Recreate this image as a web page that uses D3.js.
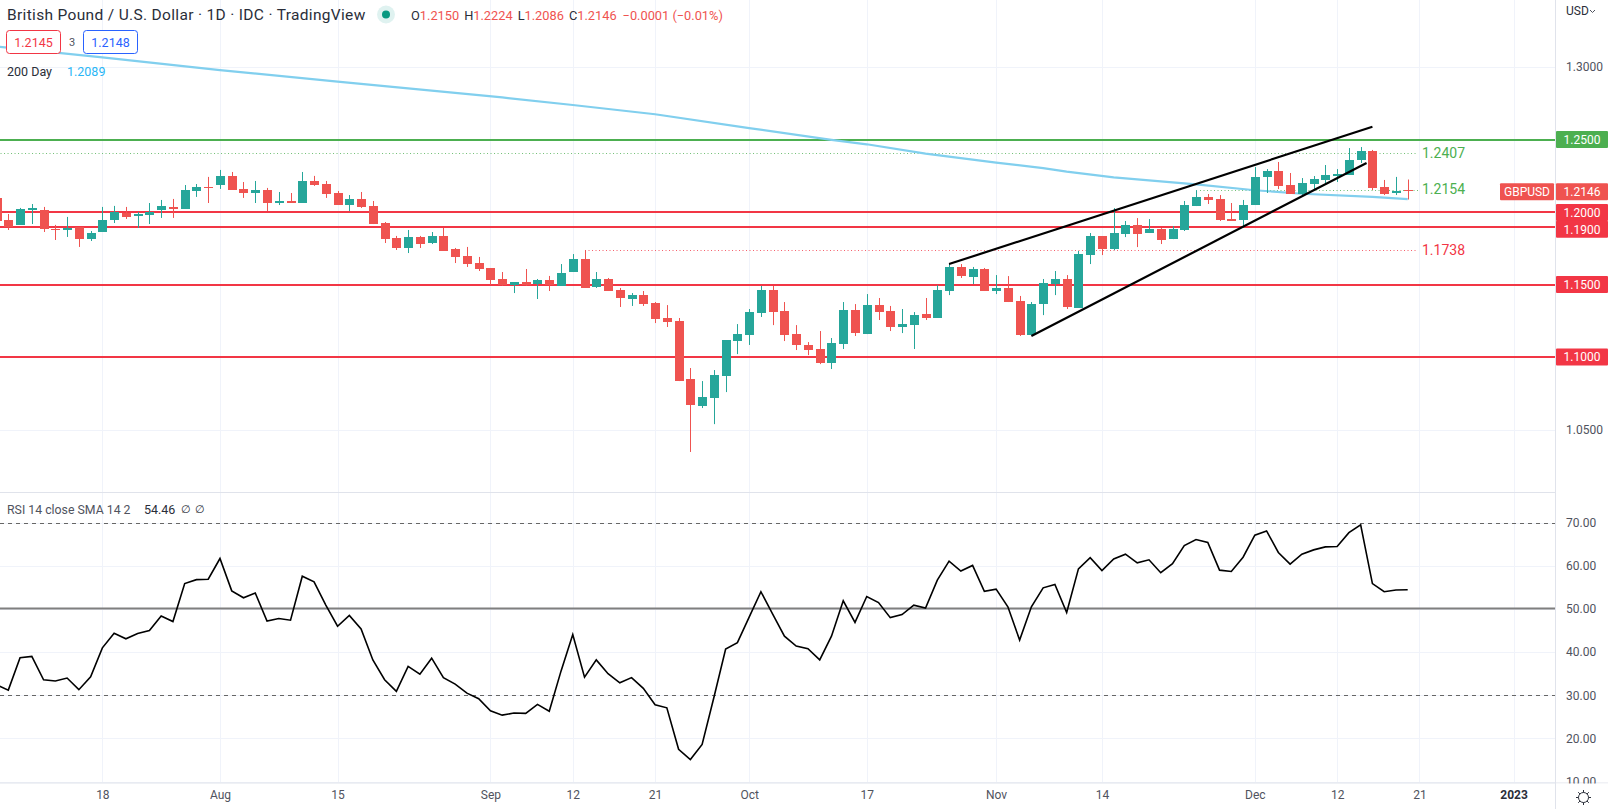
<!DOCTYPE html>
<html>
<head>
<meta charset="utf-8">
<title>GBPUSD</title>
<script src="https://cdnjs.cloudflare.com/ajax/libs/d3/7.8.5/d3.min.js"></script>
<style>
  html, body { margin: 0; padding: 0; background: #fff; }
  svg { display: block; font-family: Roboto, sans-serif; }
  .tick text { font-family: Roboto, sans-serif; }
</style>
</head>
<body>
<svg id="chart" width="1608" height="809"></svg>
<script>
// daily candles, first one is the half hidden bar at the left edge (day -1)
var firstDay = -1;
var open = [1.2097,1.1945,1.1911,1.2014,1.2014,1.1883,1.1876,1.1897,1.1814,1.1862,1.1945,1.1993,1.1973,1.1980,1.2014,1.2035,1.2021,1.2145,1.2173,1.2186,
  1.2249,1.2159,1.2131,1.2152,1.2062,1.2076,1.2062,1.2214,1.2193,1.2131,1.2048,1.2090,1.2042,1.1924,1.1821,1.1752,1.1828,1.1786,1.1835,1.1745,
  1.1697,1.1648,1.1614,1.1538,1.1497,1.1517,1.1503,1.1531,1.1490,1.1586,1.1676,1.1483,1.1538,1.1462,1.1400,1.1427,1.1372,1.1269,1.1248,1.0848,
  1.0662,1.0717,1.0869,1.1110,1.1151,1.1303,1.1462,1.1317,1.1158,1.1082,1.1055,1.0958,1.1089,1.1324,1.1158,1.1358,1.1317,1.1207,1.1220,1.1296,
  1.1269,1.1455,1.1621,1.1551,1.1607,1.1455,1.1476,1.1386,1.1151,1.1365,1.1503,1.1538,1.1338,1.1703,1.1834,1.1744,1.1848,1.1910,1.1855,1.1882,
  1.1813,1.1876,1.2041,1.2103,1.2089,1.1951,1.1945,1.2048,1.2241,1.2283,1.2186,1.2124,1.2193,1.2221,1.2248,1.2255,1.2359,1.2421,1.2172,1.2131,1.2150];
var high = [1.2097,1.1986,1.2028,1.2055,1.2035,1.1911,1.1966,1.1897,1.1869,1.2035,1.2042,1.2035,1.2000,1.2062,1.2083,1.2090,1.2186,1.2193,1.2242,1.2290,
  1.2276,1.2207,1.2214,1.2166,1.2138,1.2131,1.2276,1.2249,1.2214,1.2145,1.2117,1.2138,1.2076,1.1931,1.1835,1.1876,1.1835,1.1862,1.1890,1.1752,
  1.1759,1.1690,1.1614,1.1586,1.1517,1.1607,1.1538,1.1559,1.1641,1.1710,1.1738,1.1586,1.1545,1.1476,1.1441,1.1455,1.1379,1.1358,1.1269,1.0924,
  1.0834,1.0910,1.1117,1.1227,1.1331,1.1490,1.1490,1.1379,1.1220,1.1103,1.1179,1.1131,1.1379,1.1365,1.1434,1.1407,1.1352,1.1331,1.1310,1.1407,
  1.1496,1.1641,1.1641,1.1621,1.1614,1.1565,1.1558,1.1421,1.1379,1.1538,1.1593,1.1565,1.1731,1.1855,1.1834,1.2027,1.1938,1.1958,1.1951,1.1889,
  1.1903,1.2076,1.2151,1.2124,1.2117,1.2062,1.2083,1.2310,1.2296,1.2345,1.2269,1.2234,1.2248,1.2324,1.2296,1.2441,1.2448,1.2428,1.2221,1.2242,1.2224];
var low = [1.1938,1.1876,1.1911,1.1917,1.1862,1.1807,1.1828,1.1759,1.1800,1.1862,1.1924,1.1952,1.1890,1.1917,1.1959,1.1959,1.2021,1.2104,1.2062,1.2159,
  1.2152,1.2097,1.2062,1.2007,1.2048,1.2062,1.2062,1.2180,1.2097,1.2048,1.2007,1.2028,1.1917,1.1786,1.1738,1.1717,1.1752,1.1779,1.1731,1.1648,
  1.1621,1.1593,1.1497,1.1490,1.1441,1.1490,1.1400,1.1455,1.1490,1.1586,1.1476,1.1476,1.1455,1.1345,1.1352,1.1352,1.1234,1.1207,1.0834,1.0345,
  1.0648,1.0537,1.0758,1.1020,1.1083,1.1276,1.1220,1.1110,1.1048,1.1013,1.0951,1.0917,1.1055,1.1145,1.1158,1.1255,1.1179,1.1165,1.1055,1.1255,
  1.1269,1.1427,1.1545,1.1503,1.1455,1.1434,1.1379,1.1145,1.1151,1.1289,1.1427,1.1331,1.1338,1.1641,1.1703,1.1737,1.1827,1.1758,1.1855,1.1779,
  1.1813,1.1869,1.2041,1.2055,1.1938,1.1938,1.1896,1.2048,1.2131,1.2158,1.2124,1.2110,1.2145,1.2200,1.2207,1.2255,1.2338,1.2151,1.2117,1.2117,1.2086];
var close = [1.1938,1.1897,1.2021,1.2028,1.1883,1.1876,1.1890,1.1814,1.1855,1.1945,1.2000,1.1966,1.1986,1.2000,1.2042,1.2021,1.2152,1.2173,1.2166,1.2249,
  1.2152,1.2131,1.2152,1.2062,1.2076,1.2062,1.2214,1.2186,1.2124,1.2048,1.2090,1.2035,1.1917,1.1814,1.1752,1.1828,1.1779,1.1835,1.1731,1.1690,
  1.1641,1.1607,1.1531,1.1497,1.1517,1.1497,1.1531,1.1497,1.1579,1.1676,1.1476,1.1538,1.1455,1.1407,1.1427,1.1365,1.1262,1.1241,1.0834,1.0668,
  1.0724,1.0875,1.1117,1.1158,1.1310,1.1462,1.1310,1.1151,1.1082,1.1048,1.0958,1.1096,1.1324,1.1165,1.1358,1.1310,1.1207,1.1227,1.1289,1.1269,
  1.1462,1.1621,1.1558,1.1607,1.1455,1.1476,1.1379,1.1151,1.1365,1.1510,1.1538,1.1345,1.1710,1.1834,1.1744,1.1855,1.1910,1.1848,1.1882,1.1807,
  1.1882,1.2048,1.2103,1.2083,1.1945,1.1938,1.2048,1.2241,1.2283,1.2179,1.2124,1.2200,1.2227,1.2255,1.2262,1.2359,1.2421,1.2165,1.2124,1.2145,1.2146];

// RSI, same days as the candles
var rsi = [32.4,31.2,38.7,39.0,33.6,33.3,34.0,31.3,34.3,41.0,44.4,43.1,44.3,45.0,48.4,47.1,55.9,56.8,56.9,61.7,
  54.2,52.6,53.7,47.2,47.8,47.4,57.6,56.3,50.9,46.0,48.5,45.4,38.2,33.6,30.9,36.7,34.9,38.6,34.1,32.6,
  30.5,29.2,26.4,25.4,25.9,25.8,27.9,26.3,35.6,44.1,34.2,38.2,35.0,32.9,34.1,31.6,27.8,27.1,17.5,15.1,
  18.6,29.5,40.7,42.2,48.1,54.0,48.8,43.7,41.4,40.8,38.2,43.7,51.9,46.9,52.9,51.5,48.0,48.7,50.9,50.2,
  56.7,61.1,58.8,60.1,54.1,54.6,50.5,42.8,50.5,54.9,55.7,49.2,59.3,61.9,58.9,61.6,62.7,60.7,61.4,58.4,
  60.5,64.7,66.1,65.4,59.0,58.7,62.0,67.1,68.1,63.1,60.4,62.7,63.7,64.4,64.5,67.7,69.5,55.9,54.0,54.4,54.46];

// 200 day average read at a few days
var maDays = [-1,8,18,28,42,48,55,63,70,73,78,84,88,90,94,101,106,110,116,119];
var maVals = [1.3141,1.3066,1.2979,1.2899,1.2790,1.2738,1.2674,1.2579,1.2497,1.2467,1.2403,1.2341,1.2303,1.2278,1.2239,1.2190,1.2150,1.2126,1.2104,1.2089];

var redLevels = [1.2000,1.1900,1.1500,1.1000];
var greenLevel = 1.2500;

// upper and lower wedge, [day, price]
var wedgeUpper = [[80,1.1641],[116,1.2588]];
var wedgeLower = [[87,1.1145],[115.5,1.2338]];

// dotted high / low markers
var markers = [
  {from: -1, price: 1.2407, text: '1.2407', color: '#4caf50'},
  {from: 101, price: 1.2154, text: '1.2154', color: '#4caf50'},
  {from: 49, price: 1.1738, text: '1.1738', color: '#f23645'}
];

var tickDays = [8,18,28,41,48,55,63,73,84,93,106,113,120,128];
var tickNames = ['18','Aug','15','Sep','12','21','Oct','17','Nov','14','Dec','12','21','2023'];
var priceTicks = [1.30,1.25,1.20,1.15,1.10,1.05];
var rsiTicks = [70,60,50,40,30,20,10];

var COL_UP = '#26a69a', COL_DOWN = '#ef5350', COL_RED = '#f23645', COL_GREEN = '#4caf50';
var COL_GRID = '#f0f3fa', COL_BORDER = '#e0e3eb', COL_TEXT = '#2a2e39', COL_MUTED = '#50535e';
var AXIS_X = 1555, PANE_SPLIT = 492.5, PANE_BOTTOM = 783;

var svg = d3.select('#chart');

var x = d3.scaleLinear().domain([0, 119]).range([8.3, 1407.7]);
var y = d3.scaleLinear().domain([1.30, 1.05]).range([67, 429.5]);
var yRsi = d3.scaleLinear().domain([70, 10]).range([522.7, 781.6]);

svg.append('rect').attr('width', 1608).attr('height', 809).attr('fill', '#fff');

var clip = svg.append('defs');
clip.append('clipPath').attr('id', 'mainClip').append('rect').attr('width', AXIS_X).attr('height', PANE_SPLIT);
clip.append('clipPath').attr('id', 'rsiClip').append('rect').attr('y', PANE_SPLIT).attr('width', AXIS_X).attr('height', PANE_BOTTOM - PANE_SPLIT);

// grid
var grid = svg.append('g').attr('stroke', COL_GRID).attr('stroke-width', 1);
grid.selectAll('.v').data(tickDays).enter().append('line')
  .attr('x1', function (d) { return Math.round(x(d)) + 0.5; })
  .attr('x2', function (d) { return Math.round(x(d)) + 0.5; })
  .attr('y1', 0).attr('y2', PANE_BOTTOM);
grid.selectAll('.hp').data(priceTicks).enter().append('line')
  .attr('x1', 0).attr('x2', AXIS_X)
  .attr('y1', function (d) { return Math.round(y(d)) + 0.5; })
  .attr('y2', function (d) { return Math.round(y(d)) + 0.5; });
grid.selectAll('.hr').data(rsiTicks).enter().append('line')
  .attr('x1', 0).attr('x2', AXIS_X)
  .attr('y1', function (d) { return Math.round(yRsi(d)) + 0.5; })
  .attr('y2', function (d) { return Math.round(yRsi(d)) + 0.5; });

var main = svg.append('g').attr('clip-path', 'url(#mainClip)');

// horizontal levels sit under the candles
main.selectAll('.red').data(redLevels).enter().append('line')
  .attr('x1', 0).attr('x2', AXIS_X)
  .attr('y1', function (d) { return Math.round(y(d)); }).attr('y2', function (d) { return Math.round(y(d)); })
  .attr('stroke', COL_RED).attr('stroke-width', 2);
main.append('line')
  .attr('x1', 0).attr('x2', AXIS_X)
  .attr('y1', Math.round(y(greenLevel))).attr('y2', Math.round(y(greenLevel)))
  .attr('stroke', COL_GREEN).attr('stroke-width', 2);

main.selectAll('.marker').data(markers).enter().append('line')
  .attr('x1', function (d) { return x(d.from) + 4; }).attr('x2', 1418)
  .attr('y1', function (d) { return Math.round(y(d.price)) + 0.5; })
  .attr('y2', function (d) { return Math.round(y(d.price)) + 0.5; })
  .attr('stroke', function (d) { return d.color; })
  .attr('stroke-opacity', 0.8).attr('stroke-width', 1).attr('stroke-dasharray', '1 2.5');

var maLine = d3.line()
  .x(function (d) { return x(d); })
  .y(function (d, i) { return y(maVals[i]); });
main.append('path').attr('d', maLine(maDays))
  .attr('fill', 'none').attr('stroke', '#81cfee').attr('stroke-width', 2.2);

// candles
var days = d3.range(open.length);
function dayX(i) { return Math.round(x(i + firstDay)); }
function candleColor(i) { return close[i] >= open[i] ? COL_UP : COL_DOWN; }

var candles = main.append('g').selectAll('g').data(days).enter().append('g');
candles.append('line')
  .attr('x1', function (i) { return dayX(i) + 0.5; })
  .attr('x2', function (i) { return dayX(i) + 0.5; })
  .attr('y1', function (i) { return y(high[i]); })
  .attr('y2', function (i) { return y(low[i]); })
  .attr('stroke', candleColor).attr('stroke-width', 1);
candles.append('rect')
  .attr('x', function (i) { return dayX(i) - 4; })
  .attr('width', 9)
  .attr('y', function (i) { return Math.round(y(Math.max(open[i], close[i]))); })
  .attr('height', function (i) { return Math.max(1, Math.round(Math.abs(y(open[i]) - y(close[i])))); })
  .attr('fill', candleColor);

// wedge on top of everything
var wedge = d3.line().x(function (d) { return x(d[0]); }).y(function (d) { return y(d[1]); });
main.selectAll('.wedge').data([wedgeUpper, wedgeLower]).enter().append('path')
  .attr('d', wedge).attr('fill', 'none').attr('stroke', '#000').attr('stroke-width', 2.2);

// marker labels
svg.selectAll('.mlabel').data(markers).enter().append('text')
  .attr('x', 1422).attr('y', function (d) { return y(d.price) - 0.5; })
  .attr('dy', '0.36em')
  .attr('font-size', 14).attr('fill', function (d) { return d.color; })
  .text(function (d) { return d.text; });

// RSI pane
var rsiPane = svg.append('g').attr('clip-path', 'url(#rsiClip)');
rsiPane.selectAll('.dash').data([70, 30]).enter().append('line')
  .attr('x1', 0).attr('x2', AXIS_X)
  .attr('y1', function (d) { return Math.round(yRsi(d)) + 0.5; })
  .attr('y2', function (d) { return Math.round(yRsi(d)) + 0.5; })
  .attr('stroke', '#666').attr('stroke-width', 1).attr('stroke-dasharray', '4 4');
rsiPane.append('line')
  .attr('x1', 0).attr('x2', AXIS_X)
  .attr('y1', yRsi(50) - 0.5).attr('y2', yRsi(50) - 0.5)
  .attr('stroke', '#7f7f7f').attr('stroke-width', 1.8);
var rsiLine = d3.line()
  .x(function (d, i) { return x(i + firstDay); })
  .y(function (d) { return yRsi(d); });
rsiPane.append('path').datum(rsi).attr('d', rsiLine)
  .attr('fill', 'none').attr('stroke', '#000').attr('stroke-width', 1.6)
  .attr('stroke-linejoin', 'miter');

// borders
var border = svg.append('g').attr('stroke', COL_BORDER).attr('stroke-width', 1);
border.append('line').attr('x1', AXIS_X + 0.5).attr('x2', AXIS_X + 0.5).attr('y1', 0).attr('y2', 809);
border.append('line').attr('x1', 0).attr('x2', AXIS_X).attr('y1', PANE_SPLIT).attr('y2', PANE_SPLIT);
border.append('line').attr('x1', 0).attr('x2', 1608).attr('y1', PANE_BOTTOM).attr('y2', PANE_BOTTOM);

// axes
function styleAxis(g) {
  g.select('.domain').remove();
  g.selectAll('.tick line').remove();
  g.selectAll('.tick text').attr('fill', COL_MUTED).attr('font-size', 12);
}
var priceAxis = d3.axisRight(y).tickValues([1.30, 1.05]).tickFormat(d3.format('.4f')).tickSize(0).tickPadding(0);
svg.append('g').attr('transform', 'translate(1566,0)').call(priceAxis).call(styleAxis);

var rsiAxis = d3.axisRight(yRsi).tickValues(rsiTicks).tickFormat(d3.format('.2f')).tickSize(0).tickPadding(0);
svg.append('g').attr('transform', 'translate(1566,0)').call(rsiAxis).call(styleAxis);

var timeAxis = d3.axisBottom(x).tickValues(tickDays)
  .tickFormat(function (d) { return tickNames[tickDays.indexOf(d)]; })
  .tickSize(0).tickPadding(0);
svg.append('g').attr('transform', 'translate(0,790)').call(timeAxis).call(styleAxis)
  .selectAll('.tick text')
  .attr('font-weight', function (d) { return d === 128 ? 'bold' : null; })
  .attr('fill', function (d) { return d === 128 ? COL_TEXT : COL_MUTED; });

// covers the bottom clipped 10.00 label
svg.append('rect').attr('x', AXIS_X + 1).attr('y', PANE_BOTTOM + 0.5).attr('width', 52).attr('height', 26).attr('fill', '#fff');

svg.append('text').attr('x', 1566).attr('y', 15).attr('font-size', 12).attr('fill', COL_TEXT).text('USD');
svg.append('path').attr('d', 'M1590 10l2.5 2.5 2.5-2.5').attr('fill', 'none').attr('stroke', COL_MUTED).attr('stroke-width', 1);

// price tags
function tag(px, text, color, xLeft, width) {
  svg.append('rect').attr('x', xLeft).attr('y', px - 8.5).attr('width', width).attr('height', 17).attr('rx', 1).attr('fill', color);
  svg.append('text').attr('x', xLeft + width / 2).attr('y', px).attr('dy', '0.36em')
    .attr('text-anchor', 'middle').attr('font-size', 12).attr('fill', '#fff').text(text);
}
tag(y(1.2500), '1.2500', COL_GREEN, 1556, 52);
tag(191.7, '1.2146', COL_DOWN, 1556, 52);
tag(191.7, 'GBPUSD', COL_DOWN, 1500, 54);
tag(212.5, '1.2000', COL_RED, 1556, 52);
tag(229.3, '1.1900', COL_RED, 1556, 52);
tag(y(1.1500), '1.1500', COL_RED, 1556, 52);
tag(y(1.1000), '1.1000', COL_RED, 1556, 52);

// header
svg.append('text').attr('x', 7).attr('y', 20).attr('font-size', 15.5).attr('letter-spacing', 0.33).attr('fill', COL_TEXT)
  .text('British Pound / U.S. Dollar \u00b7 1D \u00b7 IDC \u00b7 TradingView');
svg.append('circle').attr('cx', 386).attr('cy', 14.5).attr('r', 9).attr('fill', '#26a69a').attr('fill-opacity', 0.15);
svg.append('circle').attr('cx', 386).attr('cy', 14.5).attr('r', 4).attr('fill', '#089981');

var ohlc = svg.append('text').attr('x', 411).attr('y', 20).attr('font-size', 12.8).attr('fill', COL_DOWN);
[['O', '1.2150'], ['H', '1.2224'], ['L', '1.2086'], ['C', '1.2146']].forEach(function (p, i) {
  ohlc.append('tspan').attr('dx', i ? 5 : 0).attr('fill', COL_TEXT).text(p[0]);
  ohlc.append('tspan').text(p[1]);
});
ohlc.append('tspan').attr('dx', 6).text('\u22120.0001 (\u22120.01%)');

// sell / buy boxes
svg.append('rect').attr('x', 6.5).attr('y', 30.5).attr('width', 54).attr('height', 23).attr('rx', 3)
  .attr('fill', '#fff').attr('stroke', COL_RED);
svg.append('text').attr('x', 33.5).attr('y', 42).attr('dy', '0.36em').attr('text-anchor', 'middle')
  .attr('font-size', 12.5).attr('fill', COL_RED).text('1.2145');
svg.append('text').attr('x', 72).attr('y', 42).attr('dy', '0.36em').attr('text-anchor', 'middle')
  .attr('font-size', 11).attr('fill', COL_MUTED).text('3');
svg.append('rect').attr('x', 83.5).attr('y', 30.5).attr('width', 54).attr('height', 23).attr('rx', 3)
  .attr('fill', '#fff').attr('stroke', '#2962ff');
svg.append('text').attr('x', 110.5).attr('y', 42).attr('dy', '0.36em').attr('text-anchor', 'middle')
  .attr('font-size', 12.5).attr('fill', '#2962ff').text('1.2148');

svg.append('text').attr('x', 7).attr('y', 71).attr('dy', '0.36em').attr('font-size', 12.5).attr('fill', COL_TEXT).text('200 Day');
svg.append('text').attr('x', 67).attr('y', 71).attr('dy', '0.36em').attr('font-size', 12.5).attr('fill', '#29b6f6').text('1.2089');

svg.append('text').attr('x', 7).attr('y', 509.5).attr('dy', '0.36em').attr('font-size', 12.3).attr('fill', COL_MUTED).text('RSI 14 close SMA 14 2');
svg.append('text').attr('x', 144).attr('y', 509.5).attr('dy', '0.36em').attr('font-size', 12.5).attr('fill', COL_TEXT).text('54.46');
svg.append('text').attr('x', 186).attr('y', 509.5).attr('dy', '0.36em').attr('text-anchor', 'middle').attr('font-size', 11).attr('fill', COL_TEXT).text('\u2205');
svg.append('text').attr('x', 200).attr('y', 509.5).attr('dy', '0.36em').attr('text-anchor', 'middle').attr('font-size', 11).attr('fill', COL_TEXT).text('\u2205');

// settings icon
var gear = svg.append('g').attr('transform', 'translate(1583.5,797.5)').attr('stroke', COL_TEXT).attr('fill', 'none');
gear.append('circle').attr('r', 5);
d3.range(8).forEach(function (k) {
  var a = k * Math.PI / 4;
  gear.append('line')
    .attr('x1', 5 * Math.cos(a)).attr('y1', 5 * Math.sin(a))
    .attr('x2', 7.5 * Math.cos(a)).attr('y2', 7.5 * Math.sin(a));
});
</script>
</body>
</html>
